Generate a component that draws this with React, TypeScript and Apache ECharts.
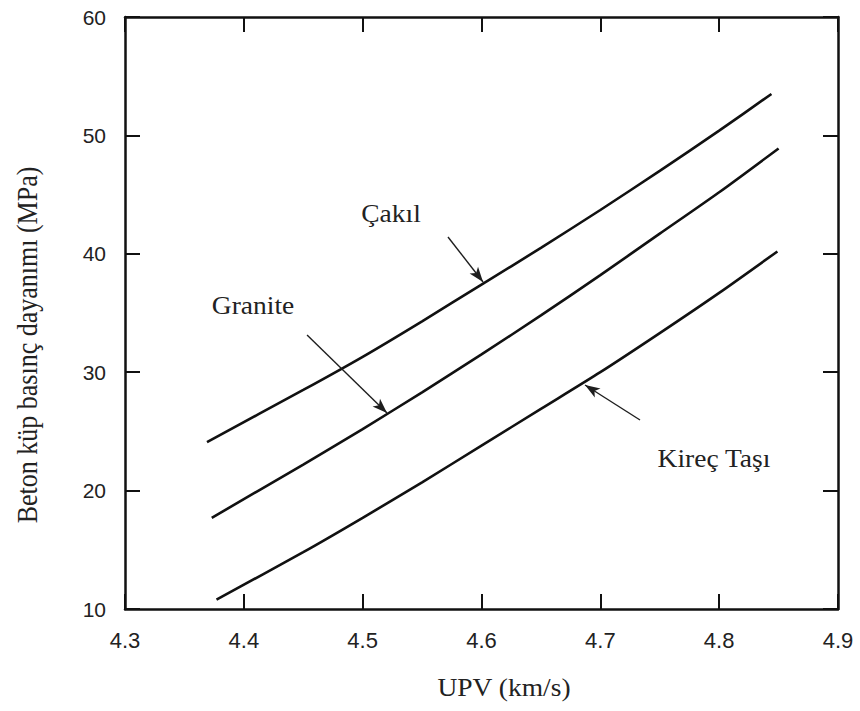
import React, { useEffect, useRef } from "react";
import * as echarts from "echarts";

// UPV (km/s) readings and cube compressive strength (MPa)
const cakilX = [4.369, 4.45, 4.5, 4.55, 4.6, 4.65, 4.7, 4.75, 4.8, 4.844];
const cakilY = [24.1, 28.5, 31.3, 34.3, 37.4, 40.5, 43.7, 47.0, 50.4, 53.5];

const graniteX = [4.373, 4.45, 4.5, 4.55, 4.6, 4.65, 4.7, 4.75, 4.8, 4.85];
const graniteY = [17.7, 22.2, 25.2, 28.3, 31.5, 34.8, 38.2, 41.7, 45.2, 48.9];

const kirecX = [4.377, 4.45, 4.5, 4.55, 4.6, 4.65, 4.7, 4.75, 4.8, 4.849];
const kirecY = [10.8, 14.8, 17.7, 20.7, 23.8, 26.9, 30.0, 33.3, 36.7, 40.2];

// annotation arrows: [tailX, tailY, tipX, tipY] in data units
const cakilArrow = [4.5718, 41.42, 4.6013, 37.62];
const graniteArrow = [4.4532, 33.14, 4.5205, 26.55];
const kirecArrow = [4.7334, 25.96, 4.6871, 28.92];

const xMin = 4.3;
const xMax = 4.9;
const xStep = 0.1;
const yMin = 10;
const yMax = 60;
const yStep = 10;

const seriesNames = ["Çakıl", "Granite", "Kireç Taşı"];
const xTitle = "UPV (km/s)";
const yTitle = "Beton küp basınç dayanımı (MPa)";

const zip = (xs: number[], ys: number[]) => xs.map((x, i) => [x, ys[i]]);

const arrowLine = (a: number[]) => ({
  silent: true,
  symbol: ["none", "arrow"],
  symbolSize: [8, 15],
  label: { show: false },
  lineStyle: { type: "solid", color: "#1e1e1e", width: 1.4 },
  data: [[{ coord: [a[0], a[1]] }, { coord: [a[2], a[3]] }]],
});

export default function App() {
  const ref = useRef<HTMLDivElement>(null);

  useEffect(() => {
    if (!ref.current) return;
    const chart = echarts.init(ref.current, null, { renderer: "svg" });
    const serif = "'Liberation Serif', 'Times New Roman', serif";
    const sans = "'Liberation Sans', Arial, sans-serif";
    const axisLine = { show: true, onZero: false, lineStyle: { color: "#111", width: 2.5 } };
    const tick = { show: true, inside: true, length: 15, lineStyle: { color: "#111", width: 2 } };
    const lineSeries = (name: string, data: number[][], arrow: number[]) => ({
      name,
      type: "line",
      data,
      smooth: 0.25,
      showSymbol: false,
      symbol: "none",
      lineStyle: { color: "#111", width: 2.6 },
      markLine: arrowLine(arrow),
    });
    const annText = (text: string, x: number, y: number) => ({
      type: "text",
      x,
      y,
      scaleX: 1.1,
      style: {
        text,
        font: `25px ${serif}`,
        fill: "#222",
        textAlign: "center",
        textVerticalAlign: "middle",
      },
    });

    chart.setOption({
      animation: false,
      backgroundColor: "#fff",
      grid: { left: 125, right: 22, top: 17, bottom: 102, containLabel: false },
      xAxis: [
        {
          type: "value",
          min: xMin,
          max: xMax,
          interval: xStep,
          position: "bottom",
          axisLine,
          axisTick: tick,
          splitLine: { show: false },
          axisLabel: {
            margin: 20,
            color: "#222",
            fontFamily: sans,
            fontSize: 22,
            formatter: (v: number) => v.toFixed(1),
          },
        },
        {
          type: "value",
          min: xMin,
          max: xMax,
          interval: xStep,
          position: "top",
          axisLine,
          axisTick: tick,
          splitLine: { show: false },
          axisLabel: { show: false },
        },
      ],
      yAxis: [
        {
          type: "value",
          min: yMin,
          max: yMax,
          interval: yStep,
          position: "left",
          axisLine,
          axisTick: tick,
          splitLine: { show: false },
          axisLabel: { margin: 19, color: "#222", fontFamily: sans, fontSize: 21 },
        },
        {
          type: "value",
          min: yMin,
          max: yMax,
          interval: yStep,
          position: "right",
          axisLine,
          axisTick: tick,
          splitLine: { show: false },
          axisLabel: { show: false },
        },
      ],
      series: [
        lineSeries(seriesNames[0], zip(cakilX, cakilY), cakilArrow),
        lineSeries(seriesNames[1], zip(graniteX, graniteY), graniteArrow),
        lineSeries(seriesNames[2], zip(kirecX, kirecY), kirecArrow),
      ],
      graphic: [
        annText(seriesNames[0], 391, 214),
        annText(seriesNames[1], 253, 306),
        annText(seriesNames[2], 714, 459),
        annText(xTitle, 504, 688),
        {
          type: "text",
          x: 28,
          y: 345,
          rotation: Math.PI / 2,
          scaleY: 1.1,
          style: {
            text: yTitle,
            font: `26px ${serif}`,
            fill: "#222",
            textAlign: "center",
            textVerticalAlign: "middle",
          },
        },
      ],
    });
    return () => chart.dispose();
  }, []);

  return (
    <div
      ref={ref}
      style={{ position: "absolute", left: 0, top: 0, width: 860, height: 711 }}
    />
  );
}
